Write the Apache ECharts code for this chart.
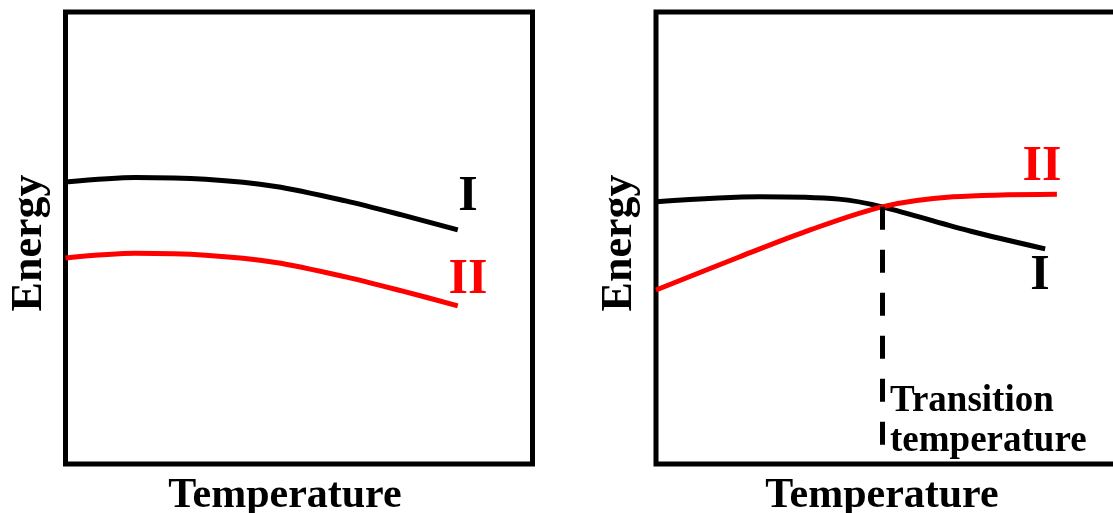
<!DOCTYPE html>
<html>
<head>
<meta charset="utf-8">
<title>Energy vs Temperature</title>
<script src="https://cdn.jsdelivr.net/npm/echarts@6/dist/echarts.min.js"></script>
<style>
	html, body { margin: 0; padding: 0; background: #fff; }
	#chart { width: 1113px; height: 513px; }
</style>
</head>
<body>
<div id="chart"></div>
<script>
	// left panel: both forms lose energy the same way, II always lower
	var leftTemp = [0, 15, 30, 45, 60, 72, 84];
	var leftFormI = [62.4, 63.4, 63.0, 61.4, 58.2, 55.1, 51.8];
	var leftFormII = [45.6, 46.6, 46.2, 44.6, 41.4, 38.3, 35.0];

	// right panel: the two curves cross at the transition temperature
	var rightTempI = [0, 22.1, 38.9, 48.1, 67.0, 82.8];
	var rightFormI = [58.0, 59.1, 58.6, 56.9, 51.5, 47.6];
	var rightTempII = [0, 17.7, 32.8, 48.1, 63.2, 85.3];
	var rightFormII = [38.5, 45.8, 51.8, 56.9, 59.1, 59.7];
	var transitionPoint = [48.1, 56.9];

	var FONT = '"Liberation Serif", "Times New Roman", serif';

	function pairs(xs, ys) {
		return xs.map(function(x, i) { return [x, ys[i]]; });
	}

	function axisX(idx) {
		return {
			type: 'value', gridIndex: idx, min: 0, max: 100,
			axisLine: { show: false }, axisTick: { show: false },
			axisLabel: { show: false }, splitLine: { show: false },
			name: 'Temperature', nameLocation: 'middle', nameGap: 11,
			nameTextStyle: {
				fontFamily: FONT, fontWeight: 'bold', fontSize: 42, color: '#000',
				verticalAlign: 'top',
				padding: idx === 0 ? [0, 28, 0, 0] : [0, 18, 0, 0]
			}
		};
	}

	function axisY(idx) {
		return {
			type: 'value', gridIndex: idx, min: 0, max: 100,
			axisLine: { show: false }, axisTick: { show: false },
			axisLabel: { show: false }, splitLine: { show: false },
			name: 'Energy', nameLocation: 'middle', nameGap: 14, nameRotate: 90,
			nameTextStyle: {
				fontFamily: FONT, fontWeight: 'bold', fontSize: 44, color: '#000',
				padding: [0, 10, 0, 0]
			}
		};
	}

	function curve(name, idx, data, color) {
		return {
			name: name, type: 'line', xAxisIndex: idx, yAxisIndex: idx,
			data: data, smooth: 0.3, symbol: 'none',
			lineStyle: { color: color, width: 5 }
		};
	}

	var myChart = echarts.init(document.getElementById('chart'));

	var redI = curve('II', 1, pairs(rightTempII, rightFormII), '#ff0000');
	redI.markLine = {
		silent: true, symbol: 'none',
		label: { show: false },
		lineStyle: { color: '#000', width: 5, type: [23, 20] },
		data: [[
			{ coord: transitionPoint },
			{ coord: [transitionPoint[0], 0] }
		]]
	};

	var labelStyle = { fontFamily: FONT, fontWeight: 'bold', fontSize: 50 };

	var option = {
		animation: false,
		backgroundColor: '#fff',
		grid: [
			{ left: 65.5, top: 12, width: 467, height: 452, outerBoundsMode: 'none', show: true, borderColor: '#000', borderWidth: 5 },
			{ left: 656, top: 12, width: 470, height: 452, outerBoundsMode: 'none', show: true, borderColor: '#000', borderWidth: 5 }
		],
		xAxis: [axisX(0), axisX(1)],
		yAxis: [axisY(0), axisY(1)],
		series: [
			curve('I', 0, pairs(leftTemp, leftFormI), '#000'),
			curve('II', 0, pairs(leftTemp, leftFormII), '#ff0000'),
			curve('I', 1, pairs(rightTempI, rightFormI), '#000'),
			redI
		],
		graphic: [
			{ type: 'text', x: 468, y: 197, style: Object.assign({ text: 'I', fill: '#000', align: 'center', verticalAlign: 'middle' }, labelStyle) },
			{ type: 'text', x: 468, y: 280, style: Object.assign({ text: 'II', fill: '#ff0000', align: 'center', verticalAlign: 'middle' }, labelStyle) },
			{ type: 'text', x: 1042, y: 167, style: Object.assign({ text: 'II', fill: '#ff0000', align: 'center', verticalAlign: 'middle' }, labelStyle) },
			{ type: 'text', x: 1040, y: 276, style: Object.assign({ text: 'I', fill: '#000', align: 'center', verticalAlign: 'middle' }, labelStyle) },
			{
				type: 'text', x: 890, y: 381,
				style: {
					text: 'Transition\ntemperature', fill: '#000',
					fontFamily: FONT, fontWeight: 'bold', fontSize: 37, lineHeight: 40,
					align: 'left', verticalAlign: 'top'
				}
			}
		]
	};
	myChart.setOption(option);
</script>
</body>
</html>
